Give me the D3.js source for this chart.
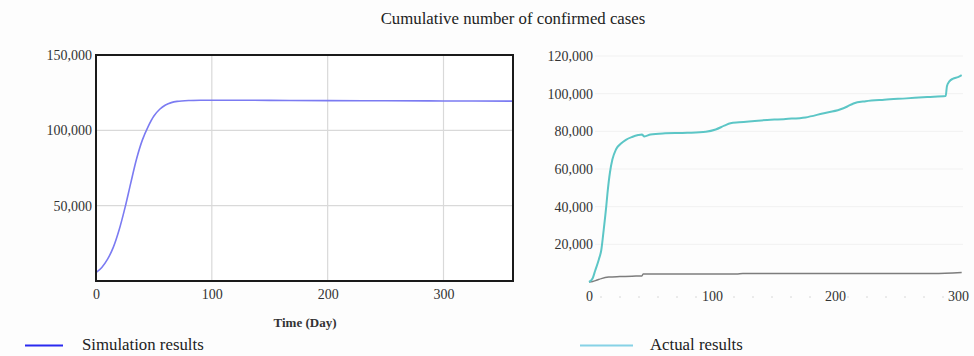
<!DOCTYPE html>
<html><head><meta charset="utf-8">
<script src="https://cdn.jsdelivr.net/npm/d3@7"></script>
<style>html,body{margin:0;padding:0;background:#fdfdfd;}svg{display:block;}
text{font-family:"Liberation Serif","Times New Roman",Times,"DejaVu Serif",serif;}</style>
</head><body>
<script>
// ---- data ----
const title = "Cumulative number of confirmed cases";
const simDays = [0,5,10,15,20,25,30,35,40,45,50,55,60,65,70,80,90,100,150,200,230,250,300,360];
const simValues = [5500,9000,14500,22500,34000,48500,65000,81000,93500,102500,109500,114000,116800,118400,119200,119800,120000,120000,119900,119700,119600,119600,119500,119400];
const actDays = [0,3,5,8,10,12,14,15,17,19,22,26,30,35,40,43,45,50,60,80,95,103,110,115,122,140,160,176,190,204,210,215,225,240,258,275,290,291,293,296,300,303];
const actValues = [0,2000,6000,12000,17000,28000,40000,47000,58000,65000,70500,73500,75500,77000,78000,78300,77300,78300,78900,79200,79800,81000,83000,84300,84800,85800,86600,87400,89500,91600,93200,94800,96000,96800,97500,98200,98700,104000,106500,108000,108800,109800];
const grayDays = [0,3,6,10,16,25,35,43,44,80,120,125,200,280,303];
const grayValues = [0,300,900,1800,2600,2900,3100,3200,4300,4300,4300,4500,4500,4500,5100];
const leftYTicks = [50000,100000,150000];
const leftXTicks = [0,100,200,300];
const rightYTicks = [20000,40000,60000,80000,100000,120000];
const rightXTicks = [0,100,200,300];
const xTitle = "Time (Day)";
const legendLabels = ["Simulation results","Actual results"];

const W=974,H=356;
const svg=d3.select("body").append("svg").attr("width",W).attr("height",H);
svg.append("rect").attr("width",W).attr("height",H).attr("fill","#fdfdfd");
const serif='"Liberation Serif","Times New Roman",Times,"DejaVu Serif",serif';
const fmt=d3.format(",");

svg.append("text").attr("x",513).attr("y",24).attr("text-anchor","middle")
  .style("font-family",serif).attr("font-size",16.8).attr("fill","#222").text(title);

// ---- left chart ----
const xL=d3.scaleLinear().domain([0,360]).range([96,513]);
const yL=d3.scaleLinear().domain([0,150000]).range([281,55]);
const gL=svg.append("g");
gL.append("rect").attr("x",xL(0)).attr("y",yL(150000)).attr("width",xL(360)-xL(0)).attr("height",yL(0)-yL(150000)).attr("fill","#fff");
gL.selectAll(".gy").data([50000,100000]).join("line")
  .attr("x1",xL(0)).attr("x2",xL(360)).attr("y1",d=>yL(d)).attr("y2",d=>yL(d))
  .attr("stroke","#d9d9d9").attr("stroke-width",1.2);
gL.selectAll(".gx").data([100,200,300]).join("line")
  .attr("y1",yL(0)).attr("y2",yL(150000)).attr("x1",d=>xL(d)).attr("x2",d=>xL(d))
  .attr("stroke","#d9d9d9").attr("stroke-width",1.2);
gL.append("path").datum(simDays.map((d,i)=>[d,simValues[i]]))
  .attr("d",d3.line().x(d=>xL(d[0])).y(d=>yL(d[1])).curve(d3.curveCatmullRom))
  .attr("fill","none").attr("stroke","#7b7bf2").attr("stroke-width",1.6);
gL.append("rect").attr("x",xL(0)).attr("y",yL(150000)).attr("width",xL(360)-xL(0)).attr("height",yL(0)-yL(150000))
  .attr("fill","none").attr("stroke","#1a1a1a").attr("stroke-width",2);
const axLy=gL.append("g").attr("transform",`translate(${xL(0)-2},0)`)
  .call(d3.axisLeft(yL).tickValues(leftYTicks).tickFormat(fmt).tickSize(0).tickPadding(2));
const axLx=gL.append("g").attr("transform",`translate(0,${yL(0)+6})`)
  .call(d3.axisBottom(xL).tickValues(leftXTicks).tickSize(0).tickPadding(2));
[axLy,axLx].forEach(a=>{a.attr("font-family",null).select(".domain").remove();
  a.selectAll("text").style("font-family",serif).attr("font-size",14).attr("fill","#333");});
gL.append("text").attr("x",305).attr("y",327).attr("text-anchor","middle")
  .style("font-family",serif).attr("font-size",13).attr("font-weight","bold").attr("fill","#333").text(xTitle);

// ---- right chart ----
const xR=d3.scaleLinear().domain([0,300]).range([589,958]);
const yR=d3.scaleLinear().domain([0,120000]).range([282,56]);
const gR=svg.append("g");
gR.selectAll(".gy").data(rightYTicks).join("line")
  .attr("x1",595).attr("x2",963).attr("y1",d=>yR(d)).attr("y2",d=>yR(d))
  .attr("stroke","#f1f1f1").attr("stroke-width",1);
gR.append("line").attr("x1",600).attr("x2",950).attr("y1",297).attr("y2",297)
  .attr("stroke","#d8d8d8").attr("stroke-dasharray","2,17");
gR.append("path").datum(grayDays.map((d,i)=>[d,grayValues[i]]))
  .attr("d",d3.line().x(d=>xR(d[0])).y(d=>yR(d[1])).curve(d3.curveMonotoneX))
  .attr("fill","none").attr("stroke","#7d7d7d").attr("stroke-width",1.5);
gR.append("path").datum(actDays.map((d,i)=>[d,actValues[i]]))
  .attr("d",d3.line().x(d=>xR(d[0])).y(d=>yR(d[1])).curve(d3.curveMonotoneX))
  .attr("fill","none").attr("stroke","#5cc6c6").attr("stroke-width",2);
const axRy=gR.append("g").attr("transform",`translate(593,0)`)
  .call(d3.axisLeft(yR).tickValues(rightYTicks).tickFormat(fmt).tickSize(0).tickPadding(0));
const axRx=gR.append("g").attr("transform",`translate(0,${yR(0)+7})`)
  .call(d3.axisBottom(xR).tickValues(rightXTicks).tickSize(0).tickPadding(2));
[axRy,axRx].forEach(a=>{a.attr("font-family",null).select(".domain").remove();
  a.selectAll("text").style("font-family",serif).attr("font-size",14).attr("fill","#333");});

// ---- legend ----
const leg=[{x1:25,x2:63,tx:82,c:"#2a2af0",t:legendLabels[0]},{x1:580,x2:633,tx:650,c:"#86d2e6",t:legendLabels[1]}];
leg.forEach(l=>{
  svg.append("line").attr("x1",l.x1).attr("x2",l.x2).attr("y1",345.5).attr("y2",345.5).attr("stroke",l.c).attr("stroke-width",2);
  svg.append("text").attr("x",l.tx).attr("y",350).style("font-family",serif).attr("font-size",16.8).attr("fill","#222").text(l.t);
});
</script>
</body></html>
